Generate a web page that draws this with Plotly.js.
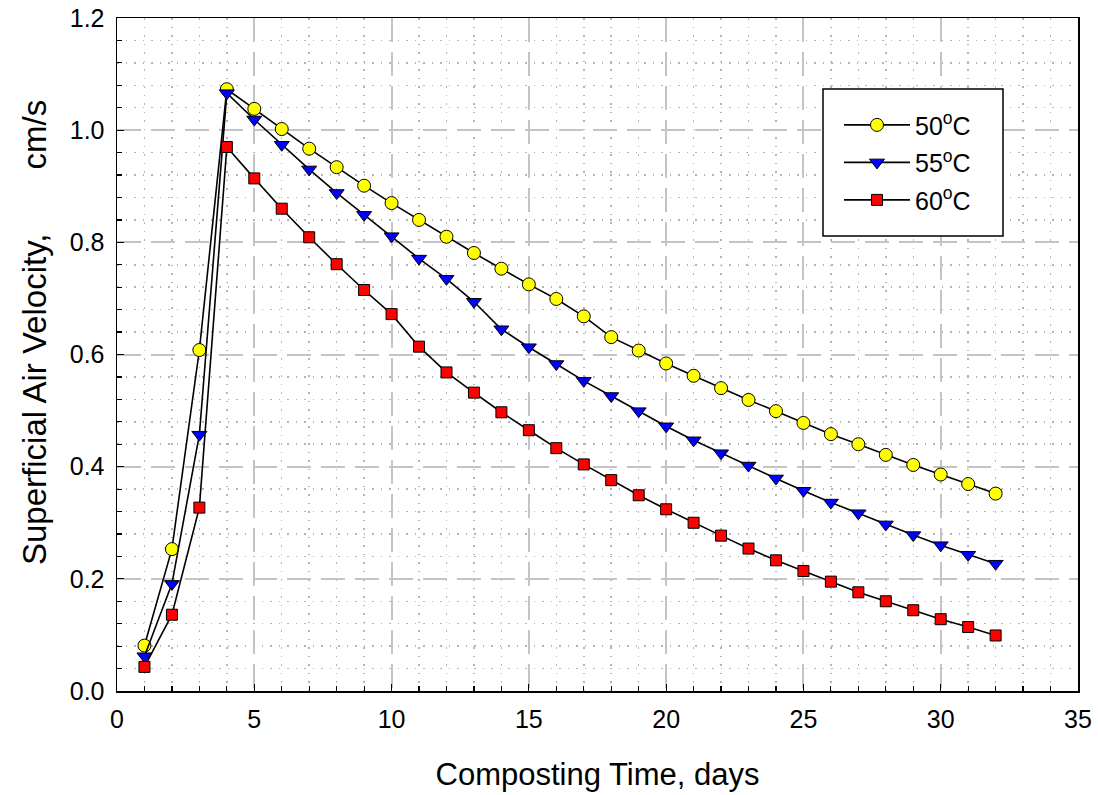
<!DOCTYPE html>
<html>
<head>
<meta charset="utf-8">
<script src="https://cdn.plot.ly/plotly-3.0.1.min.js"></script>
<style>body{margin:0;padding:0;background:#fff;} #chart{width:1098px;height:795px;}</style>
</head>
<body>
<div id="chart"></div>
<script>
const days = [1,2,3,4,5,6,7,8,9,10,11,12,13,14,15,16,17,18,19,20,21,22,23,24,25,26,27,28,29,30,31,32];
const v50 = [0.081,0.253,0.608,1.073,1.038,1.002,0.967,0.934,0.901,0.870,0.840,0.810,0.781,0.753,0.725,0.699,0.668,0.631,0.607,0.584,0.562,0.540,0.519,0.499,0.478,0.458,0.440,0.421,0.403,0.386,0.369,0.352];
const v55 = [0.062,0.191,0.457,1.066,1.019,0.974,0.930,0.888,0.849,0.811,0.771,0.735,0.694,0.645,0.613,0.583,0.553,0.526,0.499,0.472,0.447,0.424,0.402,0.379,0.357,0.336,0.317,0.297,0.278,0.260,0.243,0.227];
const v60 = [0.043,0.136,0.327,0.970,0.914,0.860,0.809,0.761,0.715,0.672,0.614,0.568,0.532,0.497,0.465,0.433,0.404,0.376,0.349,0.324,0.300,0.277,0.254,0.233,0.214,0.195,0.176,0.160,0.144,0.128,0.114,0.099];
const seriesNames = ['50<sup>o</sup>C','55<sup>o</sup>C','60<sup>o</sup>C'];
const xTitle = 'Composting Time, days';
const yTitle = 'Superficial Air Velocity,' + '\u00A0'.repeat(7) + 'cm/s';

const font = 'Liberation Sans, Arial, sans-serif';
function trace(y, name, symbol, color, size, grp){
  return {x: days, y: y, name: name, type:'scatter', mode:'lines+markers', legendgroup: grp,
    line:{color:'#000', width:1.6},
    marker:{symbol: symbol, color: color, size: size, line:{color:'#000', width:1}}};
}
const data = [
  trace(v50, seriesNames[0], 'circle', '#ffff00', 13, 'a'),
  trace(v55, seriesNames[1], 'triangle-down', '#0000ff', 13, 'b'),
  trace(v60, seriesNames[2], 'square', '#ff0000', 11, 'c')
];
const gridMajor = {showgrid:true, gridcolor:'#c4c4c4', gridwidth:2, griddash:'24px,10px'};
const layout = {
  width:1098, height:795,
  margin:{l:117, r:20, t:18, b:104},
  paper_bgcolor:'#fff', plot_bgcolor:'#fff',
  font:{family:font, color:'#000', size:25},
  showlegend:true,
  legend:{x:0.7513, y:0.875, xanchor:'left', yanchor:'top', bgcolor:'rgba(0,0,0,0)', borderwidth:0,
    font:{family:font, size:25}, traceorder:'grouped', tracegroupgap:2, itemwidth:66},
  shapes:[{type:'rect', xref:'paper', yref:'paper', x0:(823-117)/961, x1:(1003-117)/961,
    y0:(691-236)/673, y1:(691-89)/673, line:{color:'#000', width:1.5}, fillcolor:'#fff', layer:'above'}],
  annotations:[{text:yTitle, textangle:-90, xref:'paper', yref:'paper', x:(34-117)/961, y:(691-333)/673,
    xanchor:'center', yanchor:'middle', showarrow:false, font:{family:font, size:33, color:'#000'}}],
  xaxis:Object.assign({range:[0,35], dtick:5, tick0:0, ticks:'inside', ticklen:7, tickcolor:'#000', tickwidth:1.2,
    showline:true, linecolor:'#000', linewidth:1.5, mirror:true, zeroline:false,
    minor:{dtick:1, ticks:'inside', ticklen:5, tickcolor:'#000', showgrid:true, gridcolor:'#b4b4b4', griddash:'1.5px,7px', gridwidth:1.5},
    tickfont:{family:font, size:25}, ticklabelstandoff:5,
    title:{text:xTitle, font:{family:font, size:31}, standoff:32}}, gridMajor),
  yaxis:Object.assign({range:[0,1.2], dtick:0.2, tick0:0, tickformat:'.1f', ticks:'inside', ticklen:7, tickcolor:'#000', tickwidth:1.2,
    showline:true, linecolor:'#000', linewidth:1.5, mirror:true, zeroline:false,
    minor:{dtick:0.04, ticks:'inside', ticklen:5, tickcolor:'#000', showgrid:true, gridcolor:'#b4b4b4', griddash:'1.5px,7px', gridwidth:1.5},
    tickfont:{family:font, size:25}, ticklabelstandoff:6}, gridMajor)
};
Plotly.newPlot('chart', data, layout, {displayModeBar:false, staticPlot:true});
</script>
</body>
</html>
